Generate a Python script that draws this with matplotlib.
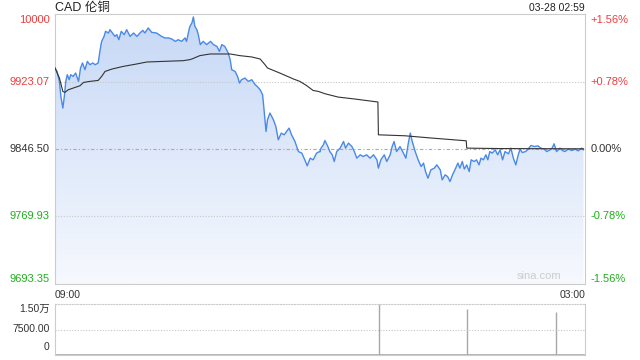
import numpy as np
import matplotlib
matplotlib.use("Agg")
import matplotlib.pyplot as plt
from matplotlib.colors import LinearSegmentedColormap

plt.rcParams['font.family'] = ['Liberation Sans', 'Noto Sans CJK SC', 'DejaVu Sans']

# ---------------- data ----------------
title = "CAD 伦铜"
stamp = "03-28 02:59"
prev_close = 9846.50
start_label, end_label = "09:00", "03:00"
session_minutes = 1080

price_t = [0, 4, 9, 12, 16, 19, 22, 25, 29, 32, 37, 42, 48, 52, 56, 61, 66, 71, 77, 82,
           88, 92, 95, 100, 103, 109, 112, 117, 122, 126, 130, 135, 141, 146, 153, 160, 167, 173, 179, 183,
           190, 197, 207, 217, 224, 231, 238, 245, 251, 258, 265, 268, 274, 275, 279, 282, 285, 289, 292, 296,
           302, 309, 317, 323, 330, 335, 340, 346, 353, 357, 360, 367, 372, 376, 380, 387, 394, 401, 408, 412,
           418, 423, 426, 430, 433, 438, 445, 450, 455, 461, 467, 472, 477, 482, 489, 496, 503, 509, 514, 520,
           526, 533, 539, 540, 542, 547, 550, 556, 560, 565, 569, 574, 581, 588, 592, 598, 605, 610, 615, 622,
           628, 635, 642, 649, 656, 659, 664, 671, 676, 683, 687, 691, 696, 703, 710, 715, 720, 724, 728, 734,
           740, 746, 751, 755, 760, 766, 773, 778, 785, 789, 795, 800, 805, 810, 815, 821, 825, 830, 834, 839,
           844, 848, 854, 859, 864, 868, 873, 878, 882, 886, 891, 897, 902, 907, 912, 917, 924, 929, 934, 939,
           944, 948, 952, 959, 964, 970, 977, 984, 990, 997, 1002, 1009, 1013, 1017, 1022, 1029, 1034, 1039, 1046, 1053,
           1060, 1066, 1073, 1077]
price_v = [9938.4, 9934.5, 9923.2, 9906.1, 9892.9, 9906.1, 9923.2, 9930.8, 9925.1, 9930.8,
           9928.8, 9932.7, 9923.2, 9938.4, 9944.1, 9936.5, 9945.9, 9942.1, 9944.1, 9942.1,
           9944.1, 9959.2, 9968.6, 9974.3, 9980.0, 9978.1, 9981.9, 9978.1, 9974.3, 9976.2,
           9970.5, 9980.0, 9976.2, 9981.9, 9974.3, 9978.1, 9974.3, 9978.1, 9981.1, 9978.1,
           9983.8, 9978.8, 9978.1, 9974.3, 9972.5, 9972.5, 9971.3, 9968.6, 9970.5, 9968.6,
           9972.5, 9968.6, 9983.8, 9985.6, 9989.5, 9996.3, 9985.6, 9981.9, 9976.2, 9964.9,
           9968.6, 9964.9, 9968.6, 9964.9, 9962.9, 9957.2, 9964.9, 9962.9, 9955.4, 9947.8,
           9936.5, 9934.5, 9928.8, 9921.3, 9925.1, 9927.0, 9923.2, 9925.1, 9919.4, 9917.5,
           9913.7, 9908.1, 9891.0, 9866.4, 9879.7, 9887.3, 9879.7, 9872.0, 9856.9, 9864.5,
           9862.6, 9866.4, 9870.2, 9862.6, 9855.0, 9843.6, 9841.8, 9834.2, 9827.4, 9836.1,
           9834.2, 9841.8, 9843.6, 9843.3, 9847.5, 9851.3, 9856.1, 9849.3, 9843.6, 9839.9,
           9832.3, 9843.6, 9847.5, 9855.0, 9847.5, 9853.2, 9849.3, 9843.6, 9836.1, 9839.9,
           9838.0, 9839.9, 9836.1, 9839.9, 9834.2, 9824.8, 9834.2, 9839.9, 9832.3, 9839.9,
           9849.3, 9855.0, 9843.6, 9849.3, 9841.8, 9836.1, 9853.2, 9864.5, 9855.0, 9843.6,
           9834.2, 9826.6, 9830.5, 9820.9, 9813.4, 9822.9, 9824.8, 9828.5, 9822.9, 9811.5,
           9817.2, 9815.2, 9809.6, 9817.2, 9822.9, 9830.5, 9824.8, 9832.3, 9823.7, 9828.5,
           9820.9, 9834.2, 9832.3, 9834.2, 9828.5, 9836.1, 9834.2, 9839.9, 9834.2, 9843.6,
           9841.8, 9845.6, 9839.9, 9845.6, 9834.2, 9843.6, 9841.0, 9847.5, 9836.1, 9828.5,
           9839.9, 9846.4, 9842.5, 9843.6, 9846.4, 9850.5, 9849.3, 9850.1, 9847.5, 9846.4,
           9843.6, 9845.6, 9847.5, 9852.4, 9843.6, 9847.5, 9844.8, 9843.6, 9846.4, 9844.8,
           9846.4, 9844.4, 9847.5, 9845.6]

avg_t = [0, 9, 16, 20, 27, 37, 51, 58, 71, 88, 95, 102, 116, 139, 166, 187, 221, 261, 274, 279,
         295, 316, 357, 377, 401, 418, 428, 433, 458, 486, 499, 513, 526, 537, 550, 577, 611, 658, 659, 713,
         768, 838, 839, 907, 1077]
avg_v = [9938.4, 9927.0, 9911.8, 9910.7, 9913.7, 9915.6, 9918.3, 9922.0, 9923.2, 9924.3,
         9928.8, 9934.5, 9937.2, 9940.2, 9942.9, 9945.2, 9945.9, 9946.7, 9947.8, 9948.6,
         9952.4, 9954.3, 9954.3, 9952.4, 9950.9, 9948.6, 9942.1, 9938.4, 9932.7, 9925.9,
         9923.2, 9918.3, 9912.9, 9911.8, 9909.2, 9905.4, 9903.2, 9899.8, 9862.6, 9861.5,
         9858.9, 9855.8, 9847.5, 9847.0, 9846.7]

vol_base_t = [0, 60, 120, 180, 240, 300, 360, 420, 480, 540, 600, 660, 720, 780, 840, 900, 960, 1020, 1077]
vol_base_v = [250, 300, 200, 350, 250, 300, 250, 200, 250, 200, 250, 250, 300, 250, 250, 300, 350, 400, 300]
vol_spike_t = [660, 840, 1021]
vol_spike_v = [15000, 13500, 12700]

price_ticks = [9999.65, 9923.07, 9846.50, 9769.93, 9693.35]
price_labels = ["10000", "9923.07", "9846.50", "9769.93", "9693.35"]
pct_labels = ["+1.56%", "+0.78%", "0.00%", "-0.78%", "-1.56%"]
vol_ticks = [15000, 7500, 0]
vol_labels = ["1.50万", "7500.00", "0"]

# ---------------- style ----------------
W, H = 640, 360
RED, GREEN, DARK = "#f03c3c", "#1fae1f", "#333333"
BORDER = "#cccccc"
BLUE = "#4a89e8"
tick_colors = [RED, RED, DARK, GREEN, GREEN]

fig = plt.figure(figsize=(W / 100, H / 100), dpi=100)
fig.patch.set_facecolor("white")

def box(l, t, r, b):
    return [l / W, 1 - b / H, (r - l) / W, (b - t) / H]

ax = fig.add_axes(box(55, 14, 585, 284))
axv = fig.add_axes(box(55, 304, 585, 355))

ymin, ymax = price_ticks[-1], price_ticks[0]
ax.set_xlim(0, session_minutes)
ax.set_ylim(ymin, ymax)

# gradient fill under price
pt = np.array(price_t, dtype=float)
pv = np.array(price_v, dtype=float)
poly = ax.fill_between(pt, pv, ymin, color="none", lw=0)
cmap = LinearSegmentedColormap.from_list("g", ["#f6f9fe", "#c6d8f6"])
grad = np.linspace(0, 1, 256).reshape(-1, 1)
im = ax.imshow(grad, extent=[0, session_minutes, ymin, ymax], origin="lower",
               aspect="auto", cmap=cmap, zorder=1)
path = poly.get_paths()[0]
im.set_clip_path(path, transform=ax.transData)

# grid lines
for v in [price_ticks[1], price_ticks[3]]:
    ax.axhline(v, color="#c8c8c8", lw=0.8, ls=(0, (1, 1.5)), zorder=2)
ax.axhline(prev_close, color="#aaaaaa", lw=0.8, ls=(0, (3, 2, 1, 2)), zorder=2)

ax.plot(pt, pv, color=BLUE, lw=1.0, zorder=4)
ax.plot(avg_t, avg_v, color="#333333", lw=0.8, zorder=5)

ax.set_xticks([])
ax.set_yticks([])
for s in ax.spines.values():
    s.set_color(BORDER)
    s.set_linewidth(0.8)

# y labels
for v, lab, pc, c in zip(price_ticks, price_labels, pct_labels, tick_colors):
    if v == ymax:
        va, off = "top", -1
    elif v == ymin:
        va, off = "bottom", 0
    else:
        va, off = "center", 0
    ax.annotate(lab, xy=(0, v), xycoords=("axes fraction", "data"),
                xytext=(-4, off), textcoords="offset points", ha="right", va=va,
                fontsize=8, color=c)
    ax.annotate(pc, xy=(1, v), xycoords=("axes fraction", "data"),
                xytext=(4, off), textcoords="offset points", ha="left", va=va,
                fontsize=8, color=c)

ax.text(0.913, 0.012, "sina.com", transform=ax.transAxes, ha="center", va="bottom",
        fontsize=8, color="#cccccc")
ax.annotate(title, xy=(0, 1), xycoords="axes fraction", xytext=(0, 1.8),
            textcoords="offset points", ha="left", va="baseline", fontsize=9, color="#222222")
ax.annotate(stamp, xy=(1, 1), xycoords="axes fraction", xytext=(0, 2.2),
            textcoords="offset points", ha="right", va="baseline", fontsize=7.5, color="#222222")
ax.text(0, -0.022, start_label, transform=ax.transAxes, ha="left", va="top", fontsize=7.5, color=DARK)
ax.text(1, -0.022, end_label, transform=ax.transAxes, ha="right", va="top", fontsize=7.5, color=DARK)

# volume
axv.set_xlim(0, session_minutes)
axv.set_ylim(0, vol_ticks[0])
axv.fill_between(vol_base_t, vol_base_v, 0, color="#b0b0b0", lw=0.6, step="mid")
axv.vlines(vol_spike_t, 0, vol_spike_v, color="#a8a8a8", lw=1.0)
axv.axhline(vol_ticks[1], color="#c8c8c8", lw=0.8, ls=(0, (1, 1.5)))
axv.set_xticks([])
axv.set_yticks([])
for k, s in axv.spines.items():
    s.set_color(BORDER)
    s.set_linewidth(0.8)
axv.spines["top"].set_linestyle((0, (1, 1.5)))
for v, lab in zip(vol_ticks, vol_labels):
    va = "top" if v == vol_ticks[0] else ("bottom" if v == 0 else "center")
    axv.annotate(lab, xy=(0, v), xycoords=("axes fraction", "data"),
                 xytext=(-4, 0 if va != "bottom" else 2), textcoords="offset points",
                 ha="right", va=va, fontsize=7.5, color=DARK)

fig.savefig("out.png", dpi=100)
